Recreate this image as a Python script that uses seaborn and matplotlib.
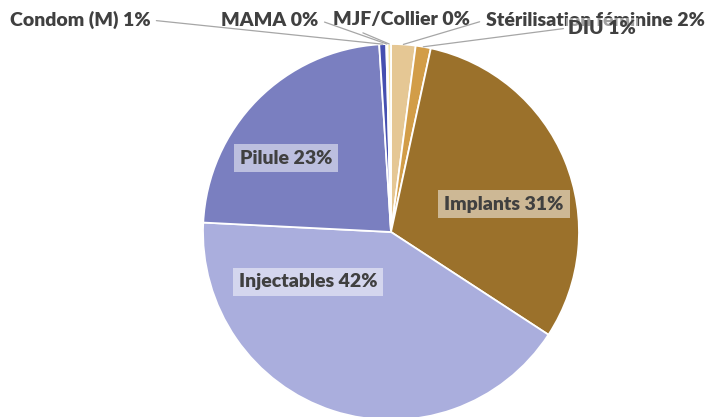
import numpy as np
import matplotlib
matplotlib.use("Agg")
import matplotlib.pyplot as plt
import seaborn as sns

# --- data ------------------------------------------------------------------
methods = ["Stérilisation féminine", "DIU", "Implants", "Injectables",
           "Pilule", "Condom (M)", "MAMA", "MJF/Collier"]
shares = [2.1, 1.3, 30.8, 41.6, 23.2, 0.6, 0.1, 0.3]
colors = ["#E5C794", "#D29D48", "#9B712B", "#AAAEDD",
          "#7A7FC0", "#4650B0", "#6A72BC", "#F3E4A6"]

# which labels sit inside the pie, which outside with leader lines
inside = {"Implants", "Injectables", "Pilule"}

# label positions in pixels of the 706x417 canvas (centre x, centre y)
label_px = {
    "Implants": (504, 204),
    "Injectables": (308, 282),
    "Pilule": (286, 158),
    "Condom (M)": (80, 20),
    "MAMA": (270, 20),
    "MJF/Collier": (401, 20),
    "Stérilisation féminine": (595, 20),
    "DIU": (602, 28),
}

W, H = 706, 417
CX, CY, R = 391, 232, 188

sns.set_theme(style="white")
plt.rcParams["font.family"] = ["Lato", "DejaVu Sans"]

fig = plt.figure(figsize=(W / 100, H / 100), dpi=100)
ax = fig.add_axes([0, 0, 1, 1])

wedges, _ = ax.pie(shares, colors=colors, startangle=90, counterclock=False,
                   radius=1.0, wedgeprops=dict(edgecolor="white", linewidth=1.3))


def to_data(px, py):
    return (px - CX) / R, (CY - py) / R


ax.set_xlim(-CX / R, (W - CX) / R)
ax.set_ylim(-(H - CY) / R, CY / R)
ax.set_aspect("equal")
ax.axis("off")

txt_color = "#404040"
fs = 14
for w, name, val in zip(wedges, methods, shares):
    label = f"{name} {round(val):.0f}%"
    x, y = to_data(*label_px[name])
    if name in inside:
        ax.text(x, y, label, ha="center", va="center", fontsize=fs,
                fontweight="heavy", color=txt_color,
                bbox=dict(boxstyle="square,pad=0.3", fc="white", ec="none",
                          alpha=0.5))
    else:
        mid = np.deg2rad((w.theta1 + w.theta2) / 2)
        ex, ey = np.cos(mid), np.sin(mid)
        right = x > ex
        bbox = None
        if name == "DIU":
            bbox = dict(boxstyle="square,pad=0.1", fc="white", ec="none",
                        alpha=0.5)
        ax.annotate(label, xy=(ex, ey), xytext=(x, y), ha="center",
                    va="center", fontsize=fs, fontweight="heavy",
                    color=txt_color, bbox=bbox,
                    arrowprops=dict(arrowstyle="-", color="#A6A6A6", lw=0.9,
                                    shrinkA=2, shrinkB=0,
                                    relpos=(0, 0.5) if right else (1, 0.5)))

fig.savefig("out.png", dpi=100)
